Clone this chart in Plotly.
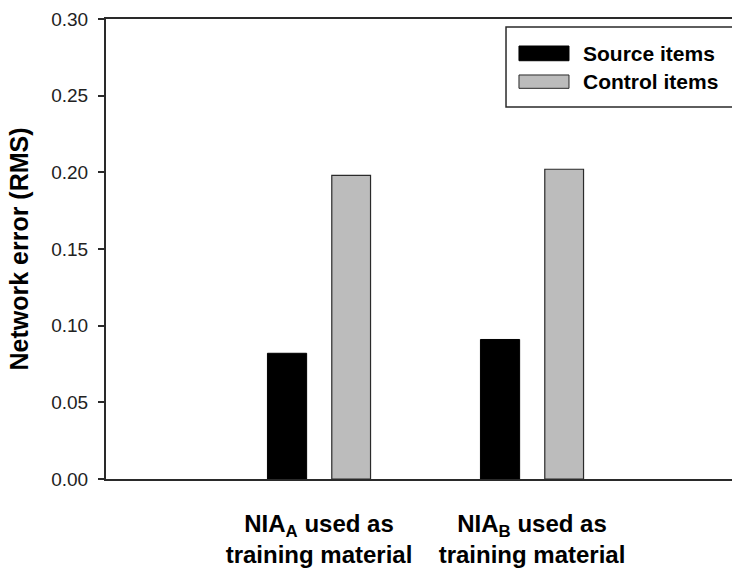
import plotly.graph_objects as go

# ---- data ----
categories = ["NIA<sub>A</sub> used as<br>training material",
              "NIA<sub>B</sub> used as<br>training material"]
category_pos = [1, 2]
series_names = ["Source items", "Control items"]
source_values = [0.082, 0.091]
control_values = [0.198, 0.202]
y_ticks = [0.00, 0.05, 0.10, 0.15, 0.20, 0.25, 0.30]

FONT = "Liberation Sans, Arial, Helvetica, sans-serif"
BLACK = "#000000"
GRAY = "#bcbcbc"
EDGE = "#2a2a2a"

fig = go.Figure()
fig.add_trace(go.Bar(
    x=category_pos, y=source_values, name=series_names[0],
    offset=-0.242, width=0.184,
    marker=dict(color=BLACK, line=dict(color=BLACK, width=1)),
))
fig.add_trace(go.Bar(
    x=category_pos, y=control_values, name=series_names[1],
    offset=0.060, width=0.182,
    marker=dict(color=GRAY, line=dict(color=EDGE, width=1.2)),
))

# ---- manual legend (wide swatches, box running past the right edge) ----
box = dict(x0=0.639, x1=1.05, y0=0.8087, y1=0.9826)
fig.add_shape(type="rect", xref="paper", yref="paper", **box,
              line=dict(color=EDGE, width=1.5), fillcolor="rgba(0,0,0,0)")
swatches = [
    (series_names[0], BLACK, BLACK, 0.9093, 0.9413, 0.9254),
    (series_names[1], GRAY, EDGE, 0.8493, 0.8783, 0.8637),
]
for name, fill, edge, y0, y1, yc in swatches:
    fig.add_shape(type="rect", xref="paper", yref="paper",
                  x0=0.6597, x1=0.7396, y0=y0, y1=y1,
                  line=dict(color=edge, width=1), fillcolor=fill)
    fig.add_annotation(xref="paper", yref="paper", x=0.7588, y=yc,
                       xanchor="left", yanchor="middle", showarrow=False,
                       text="<b>%s</b>" % name,
                       font=dict(family=FONT, size=21, color="#000"))

fig.update_layout(
    width=732, height=568,
    margin=dict(l=106, r=0, t=19, b=89),
    paper_bgcolor="white", plot_bgcolor="white",
    showlegend=False,
    barmode="overlay",
    font=dict(family=FONT, color="#111"),
    xaxis=dict(
        range=[0, 2.939], tickvals=category_pos, ticktext=["<b>%s</b>" % c for c in categories],
        showline=True, mirror=True, linecolor=EDGE, linewidth=2,
        ticks="", showgrid=False, zeroline=False,
        tickfont=dict(family=FONT, size=24, color="#000"),
        ticklabelstandoff=22,
    ),
    yaxis=dict(
        range=[0, 0.30], tickvals=y_ticks, tickformat=".2f",
        showline=True, mirror=False, linecolor=EDGE, linewidth=2,
        ticks="outside", ticklen=6, tickwidth=2, tickcolor=EDGE,
        showgrid=False, zeroline=False,
        tickfont=dict(family=FONT, size=19, color="#222"),
        ticklabelstandoff=6,
        title=dict(text="<b>Network error (RMS)</b>", standoff=15,
                   font=dict(family=FONT, size=25, color="#000")),
    ),
)

fig.write_html("out.html",
               config={"displayModeBar": False},
               post_script="document.body.style.margin='0';document.body.style.overflow='hidden';")
